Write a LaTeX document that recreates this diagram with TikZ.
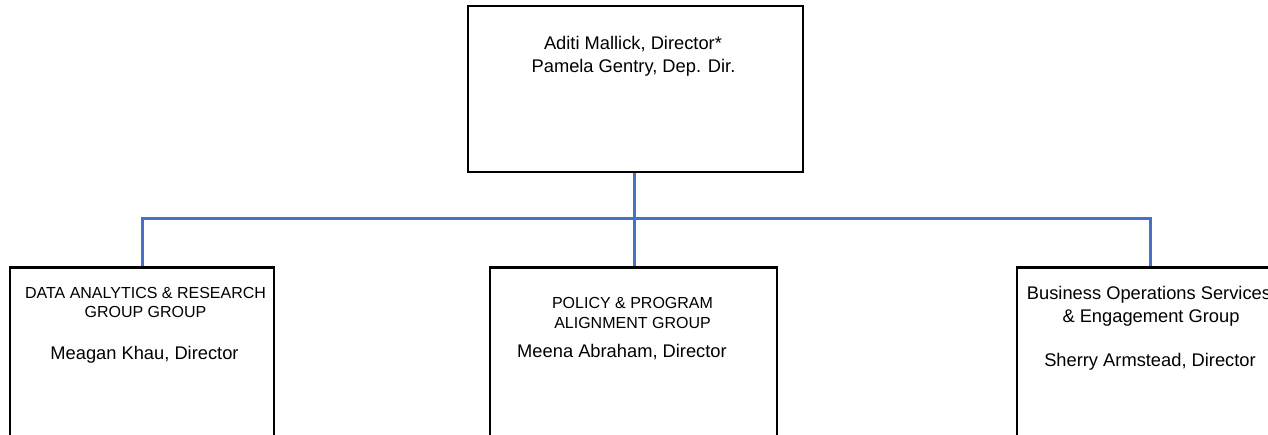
\documentclass[tikz,border=0pt]{standalone}
\usepackage{fontspec}
\setmainfont{Liberation Sans}
\definecolor{linkblue}{HTML}{4472C4}
\tikzset{
  box/.style={draw=black, line width=2.6pt, fill=white, inner sep=0pt},
  link/.style={draw=linkblue, line width=3pt},
  big/.style={font=\fontsize{18.3}{22}\selectfont, anchor=base, inner sep=0pt},
  small/.style={font=\fontsize{16}{19}\selectfont, anchor=base, inner sep=0pt}
}
\begin{document}
\begin{tikzpicture}[x=1pt, y=-1pt]
\useasboundingbox (0,0) rectangle (1268,434);
\clip (0,0) rectangle (1268,434);
% boxes
\node[box, minimum width=335pt, minimum height=166pt] (top) at (635.5,89) {};
\node[box, minimum width=264pt, minimum height=169pt] (left) at (142,351.8) {};
\node[box, minimum width=287pt, minimum height=169pt] (mid) at (633.5,351.8) {};
\node[box, minimum width=266pt, minimum height=169pt] (right) at (1150,351.8) {};
% connectors
\coordinate (junc) at (634,218);
\draw[link] (junc |- top.south) -- (junc);
\draw[link] (junc) -- (junc |- mid.north);
\draw[link] (left.north) |- (junc) -| (right.north);
% texts
\node[big] (t1) at (633,49.5) {Aditi Mallick, Director*};
\node[big] (t2) at (633.5,72.5) {Pamela Gentry, Dep. Dir.};
\node[small] (l1) at (145.5,298.5) {DATA ANALYTICS \& RESEARCH};
\node[small] (l2) at (145.5,317.5) {GROUP GROUP};
\node[big] (l3) at (144.5,359.5) {Meagan Khau, Director};
\node[small] (m1) at (632.5,308.5) {POLICY \& PROGRAM};
\node[small] (m2) at (632.5,328.5) {ALIGNMENT GROUP};
\node[big] (m3) at (622,357.5) {Meena Abraham, Director};
\node[big] (r1) at (1149,299.5) {Business Operations Services};
\node[big] (r2) at (1151,322.5) {\& Engagement Group};
\node[big] (r3) at (1150,366.5) {Sherry Armstead, Director};
\end{tikzpicture}
\end{document}
